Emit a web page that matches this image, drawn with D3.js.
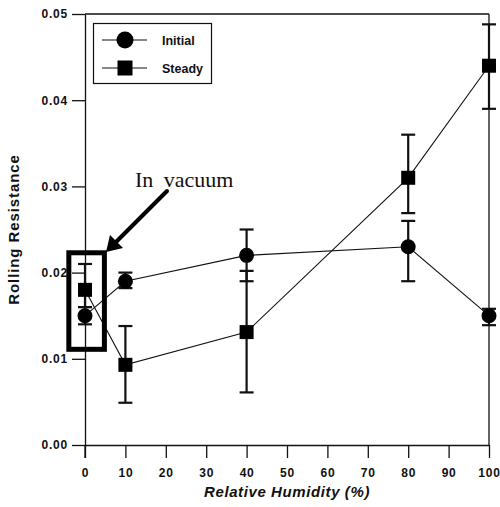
<!DOCTYPE html>
<html>
<head>
<meta charset="utf-8">
<script src="https://cdn.jsdelivr.net/npm/d3@7/dist/d3.min.js"></script>
<style>
  body { margin: 0; background: #fff; }
  svg text { font-family: "Liberation Sans", Arial, sans-serif; font-weight: bold; fill: #111; }
</style>
</head>
<body>
<svg width="500" height="507"></svg>
<script>
// values
const humidity = [0, 10, 40, 80, 100];
const initialVal = [0.015, 0.019, 0.022, 0.023, 0.015];
const initialLo  = [0.014, 0.0182, 0.019, 0.019, 0.0139];
const initialHi  = [0.016, 0.020, 0.025, 0.026, 0.0158];
const steadyVal = [0.018, 0.0093, 0.0131, 0.031, 0.044];
const steadyLo  = [0.016, 0.0049, 0.0061, 0.0269, 0.039];
const steadyHi  = [0.021, 0.0138, 0.0202, 0.036, 0.0488];
const xTicks = [0, 10, 20, 30, 40, 50, 60, 70, 80, 90, 100];
const yTicks = [0, 0.01, 0.02, 0.03, 0.04, 0.05];
const seriesNames = ["Initial", "Steady"];

const svg = d3.select("svg");
const x = d3.scaleLinear().domain([0, 100]).range([85, 489]);
const y = d3.scaleLinear().domain([0, 0.05]).range([445, 14]);

// frame
const frame = svg.append("g").attr("stroke", "#111").attr("fill", "none");
frame.append("line").attr("x1", x(0)).attr("x2", x(100)).attr("y1", y(0.05)).attr("y2", y(0.05)).attr("stroke-width", 1.3);
frame.append("line").attr("x1", x(100)).attr("x2", x(100)).attr("y1", y(0.05)).attr("y2", y(0)).attr("stroke-width", 1.3);

// axes
const yAxis = svg.append("g")
  .attr("transform", `translate(${x(0)},0)`)
  .call(d3.axisLeft(y).tickValues(yTicks).tickFormat(d3.format(".2f")).tickSize(13).tickPadding(4).tickSizeOuter(0));
const xAxis = svg.append("g")
  .attr("transform", `translate(0,${y(0)})`)
  .call(d3.axisBottom(x).tickValues(xTicks).tickFormat(d3.format("d")).tickSize(13).tickPadding(10).tickSizeOuter(0));
[xAxis, yAxis].forEach(g => {
  g.selectAll("path.domain").attr("stroke", "#111").attr("stroke-width", 1.3);
  g.selectAll(".tick line").attr("stroke", "#111").attr("stroke-width", 1.3);
  g.selectAll(".tick text").attr("font-size", 12).attr("letter-spacing", 0.8);
});
// left axis line extends down through the x=0 tick
svg.append("line").attr("x1", x(0)).attr("x2", x(0)).attr("y1", y(0)).attr("y2", y(0) + 13)
  .attr("stroke", "#111").attr("stroke-width", 1.3);

// axis titles
svg.append("text")
  .attr("transform", `translate(19,${(y(0) + y(0.05)) / 2}) rotate(-90)`)
  .attr("text-anchor", "middle")
  .attr("font-size", 15).attr("letter-spacing", 0.9)
  .text("Rolling Resistance");
svg.append("text")
  .attr("x", x(50)).attr("y", 497)
  .attr("text-anchor", "middle")
  .attr("font-size", 15).attr("font-style", "italic").attr("letter-spacing", 0.6)
  .text("Relative Humidity (%)");

// series
const series = [
  { name: seriesNames[0], val: initialVal, lo: initialLo, hi: initialHi, shape: "circle" },
  { name: seriesNames[1], val: steadyVal, lo: steadyLo, hi: steadyHi, shape: "square" }
];

const line = d3.line().x(d => x(d[0])).y(d => y(d[1]));
const plot = svg.append("g");

series.forEach(s => {
  const pts = humidity.map((h, i) => [h, s.val[i], s.lo[i], s.hi[i]]);
  plot.append("path").datum(pts).attr("d", line)
    .attr("fill", "none").attr("stroke", "#111").attr("stroke-width", 1.1);
  const eb = plot.append("g").attr("stroke", "#111").attr("stroke-width", 2.2);
  eb.selectAll("line.bar").data(pts).join("line").attr("class", "bar")
    .attr("x1", d => x(d[0])).attr("x2", d => x(d[0]))
    .attr("y1", d => y(d[2])).attr("y2", d => y(d[3]));
  eb.selectAll("line.capLo").data(pts).join("line").attr("class", "capLo")
    .attr("x1", d => x(d[0]) - 7).attr("x2", d => x(d[0]) + 7)
    .attr("y1", d => y(d[2])).attr("y2", d => y(d[2]));
  eb.selectAll("line.capHi").data(pts).join("line").attr("class", "capHi")
    .attr("x1", d => x(d[0]) - 7).attr("x2", d => x(d[0]) + 7)
    .attr("y1", d => y(d[3])).attr("y2", d => y(d[3]));
});

series.forEach(s => {
  const pts = humidity.map((h, i) => [h, s.val[i]]);
  if (s.shape === "circle") {
    plot.selectAll(null).data(pts).join("circle")
      .attr("cx", d => x(d[0])).attr("cy", d => y(d[1])).attr("r", 7.5).attr("fill", "#000");
  } else {
    plot.selectAll(null).data(pts).join("rect")
      .attr("x", d => x(d[0]) - 7).attr("y", d => y(d[1]) - 7)
      .attr("width", 14).attr("height", 14).attr("fill", "#000");
  }
});

// "In vacuum" annotation
svg.append("rect")
  .attr("x", x(-4.0)).attr("y", y(0.0223))
  .attr("width", x(4.8) - x(-4.0)).attr("height", y(0.0111) - y(0.0223))
  .attr("fill", "none").attr("stroke", "#000").attr("stroke-width", 5);
svg.append("line")
  .attr("x1", 167).attr("y1", 191).attr("x2", 116).attr("y2", 242)
  .attr("stroke", "#000").attr("stroke-width", 4).attr("stroke-linecap", "round");
svg.append("path")
  .attr("d", "M106,252 L110,235 L123,248 Z")
  .attr("fill", "#000");
svg.append("text")
  .attr("x", 135).attr("y", 187)
  .style("font-family", "'Liberation Serif', 'Times New Roman', serif")
  .style("font-weight", "normal").attr("font-size", 22)
  .attr("word-spacing", 5)
  .text("In vacuum");

// legend
const lg = svg.append("g");
lg.append("rect").attr("x", 93.5).attr("y", 23.5).attr("width", 118).attr("height", 60)
  .attr("fill", "#fff").attr("stroke", "#111").attr("stroke-width", 1.2);
series.forEach((s, i) => {
  const ly = 40 + i * 28;
  lg.append("line").attr("x1", 102).attr("x2", 147).attr("y1", ly).attr("y2", ly)
    .attr("stroke", "#111").attr("stroke-width", 1.1);
  if (s.shape === "circle") {
    lg.append("circle").attr("cx", 125).attr("cy", ly).attr("r", 8.5).attr("fill", "#000");
  } else {
    lg.append("rect").attr("x", 117.5).attr("y", ly - 7.5).attr("width", 15).attr("height", 15).attr("fill", "#000");
  }
  lg.append("text").attr("x", 162).attr("y", ly + 4.5).attr("font-size", 12.5).text(s.name);
});
</script>
</body>
</html>
